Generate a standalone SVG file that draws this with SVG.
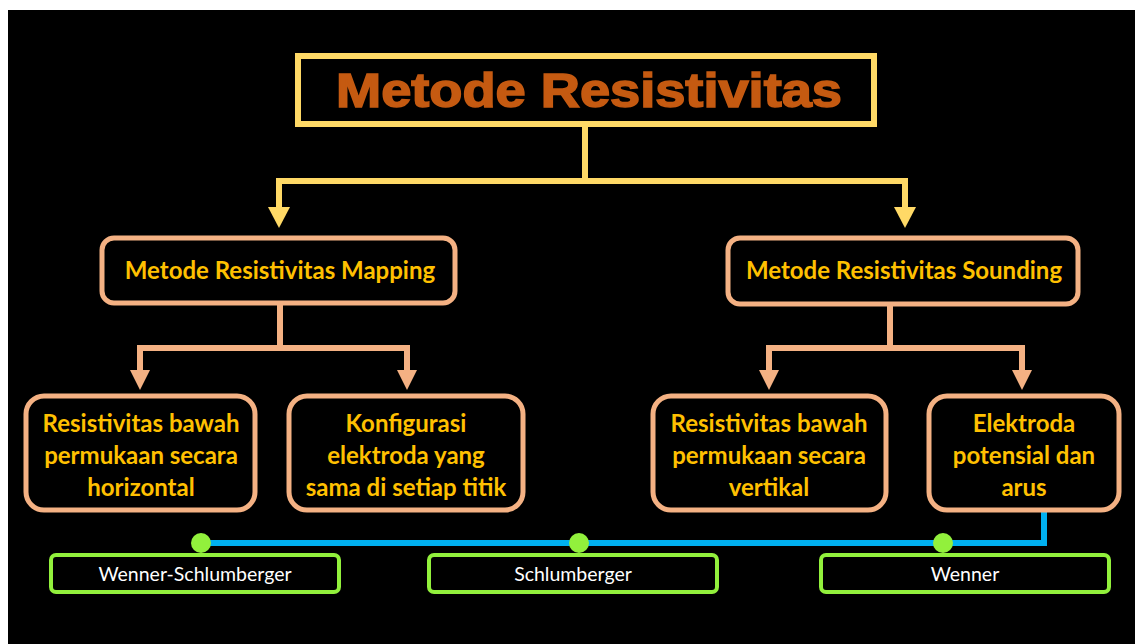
<svg xmlns="http://www.w3.org/2000/svg" width="1135" height="644" viewBox="0 0 1135 644">
<defs>
<style>
.title{font-family:"Liberation Sans",Arial,sans-serif;font-weight:bold;font-size:49px;fill:#C55A11;stroke:#C55A11;stroke-width:1.6;text-anchor:middle}
.lbl{font-family:Lato,"Open Sans",sans-serif;font-weight:bold;font-size:24px;fill:#FFC000;text-anchor:middle}
.glbl{font-family:Lato,"Open Sans",sans-serif;font-size:19.5px;fill:#FFFFFF;text-anchor:middle}
.pbox{fill:#000;stroke:#F4B183;stroke-width:5}
.gbox{fill:#000;stroke:#92F03C;stroke-width:4}
.yline{fill:none;stroke:#FFD966;stroke-width:6}
.pline{fill:none;stroke:#F4B183;stroke-width:6}
.bline{fill:none;stroke:#00B0F0;stroke-width:6}
.dot{fill:#92F03C}
</style>
</defs>
<rect x="0" y="0" width="1135" height="644" fill="#FFFFFF"/>
<rect x="8" y="10" width="1127" height="634" fill="#000000"/>

<g id="connectors">
<path class="yline" d="M585,126 V181 M279,181 H906 M279,178 V210 M905,178 V210"/>
<polygon points="268,207 290,207 279,228" fill="#FFD966"/>
<polygon points="894,207 916,207 905,228" fill="#FFD966"/>
<path class="pline" d="M280,303 V348 M140,348 H408 M140,345 V372 M407,345 V372 M890,304 V348 M769,348 H1025 M769,345 V372 M1022,345 V372"/>
<polygon points="130,370 150,370 140,390" fill="#F4B183"/>
<polygon points="397,370 417,370 407,390" fill="#F4B183"/>
<polygon points="759,370 779,370 769,390" fill="#F4B183"/>
<polygon points="1012,370 1032,370 1022,390" fill="#F4B183"/>
<path class="bline" d="M1044,512 V543 H200"/>
</g>

<g id="title">
<rect x="298" y="56" width="576" height="68" fill="#000" stroke="#FFD966" stroke-width="6"/>
<text class="title" x="589" y="107" textLength="506" lengthAdjust="spacingAndGlyphs">Metode Resistivitas</text>
</g>

<g id="mapping">
<rect class="pbox" x="102" y="238" width="353" height="65" rx="12"/>
<text class="lbl" x="280" y="279">Metode Resistivitas Mapping</text>
</g>

<g id="sounding">
<rect class="pbox" x="728" y="238" width="350" height="66" rx="12"/>
<text class="lbl" x="904" y="279">Metode Resistivitas Sounding</text>
</g>

<g id="horizontal">
<rect class="pbox" x="26" y="396" width="229" height="114" rx="18"/>
<text class="lbl" x="141" y="432">Resistivitas bawah</text>
<text class="lbl" x="141" y="464">permukaan secara</text>
<text class="lbl" x="141" y="496">horizontal</text>
</g>

<g id="konfigurasi">
<rect class="pbox" x="289" y="396" width="234" height="114" rx="18"/>
<text class="lbl" x="406" y="432">Konfigurasi</text>
<text class="lbl" x="406" y="464">elektroda yang</text>
<text class="lbl" x="406" y="496">sama di setiap titik</text>
</g>

<g id="vertikal">
<rect class="pbox" x="653" y="396" width="233" height="114" rx="18"/>
<text class="lbl" x="769" y="432">Resistivitas bawah</text>
<text class="lbl" x="769" y="464">permukaan secara</text>
<text class="lbl" x="769" y="496">vertikal</text>
</g>

<g id="elektroda">
<rect class="pbox" x="929" y="396" width="190" height="114" rx="18"/>
<text class="lbl" x="1024" y="432">Elektroda</text>
<text class="lbl" x="1024" y="464">potensial dan</text>
<text class="lbl" x="1024" y="496">arus</text>
</g>

<g id="wenner-schlumberger">
<rect class="gbox" x="51" y="555" width="288" height="37" rx="5"/>
<circle class="dot" cx="201" cy="543" r="10"/>
<text class="glbl" x="195" y="581">Wenner-Schlumberger</text>
</g>

<g id="schlumberger">
<rect class="gbox" x="429" y="555" width="288" height="37" rx="5"/>
<circle class="dot" cx="579" cy="543" r="10"/>
<text class="glbl" x="573" y="581">Schlumberger</text>
</g>

<g id="wenner">
<rect class="gbox" x="821" y="555" width="288" height="37" rx="5"/>
<circle class="dot" cx="943" cy="543" r="10"/>
<text class="glbl" x="965" y="581">Wenner</text>
</g>
</svg>
